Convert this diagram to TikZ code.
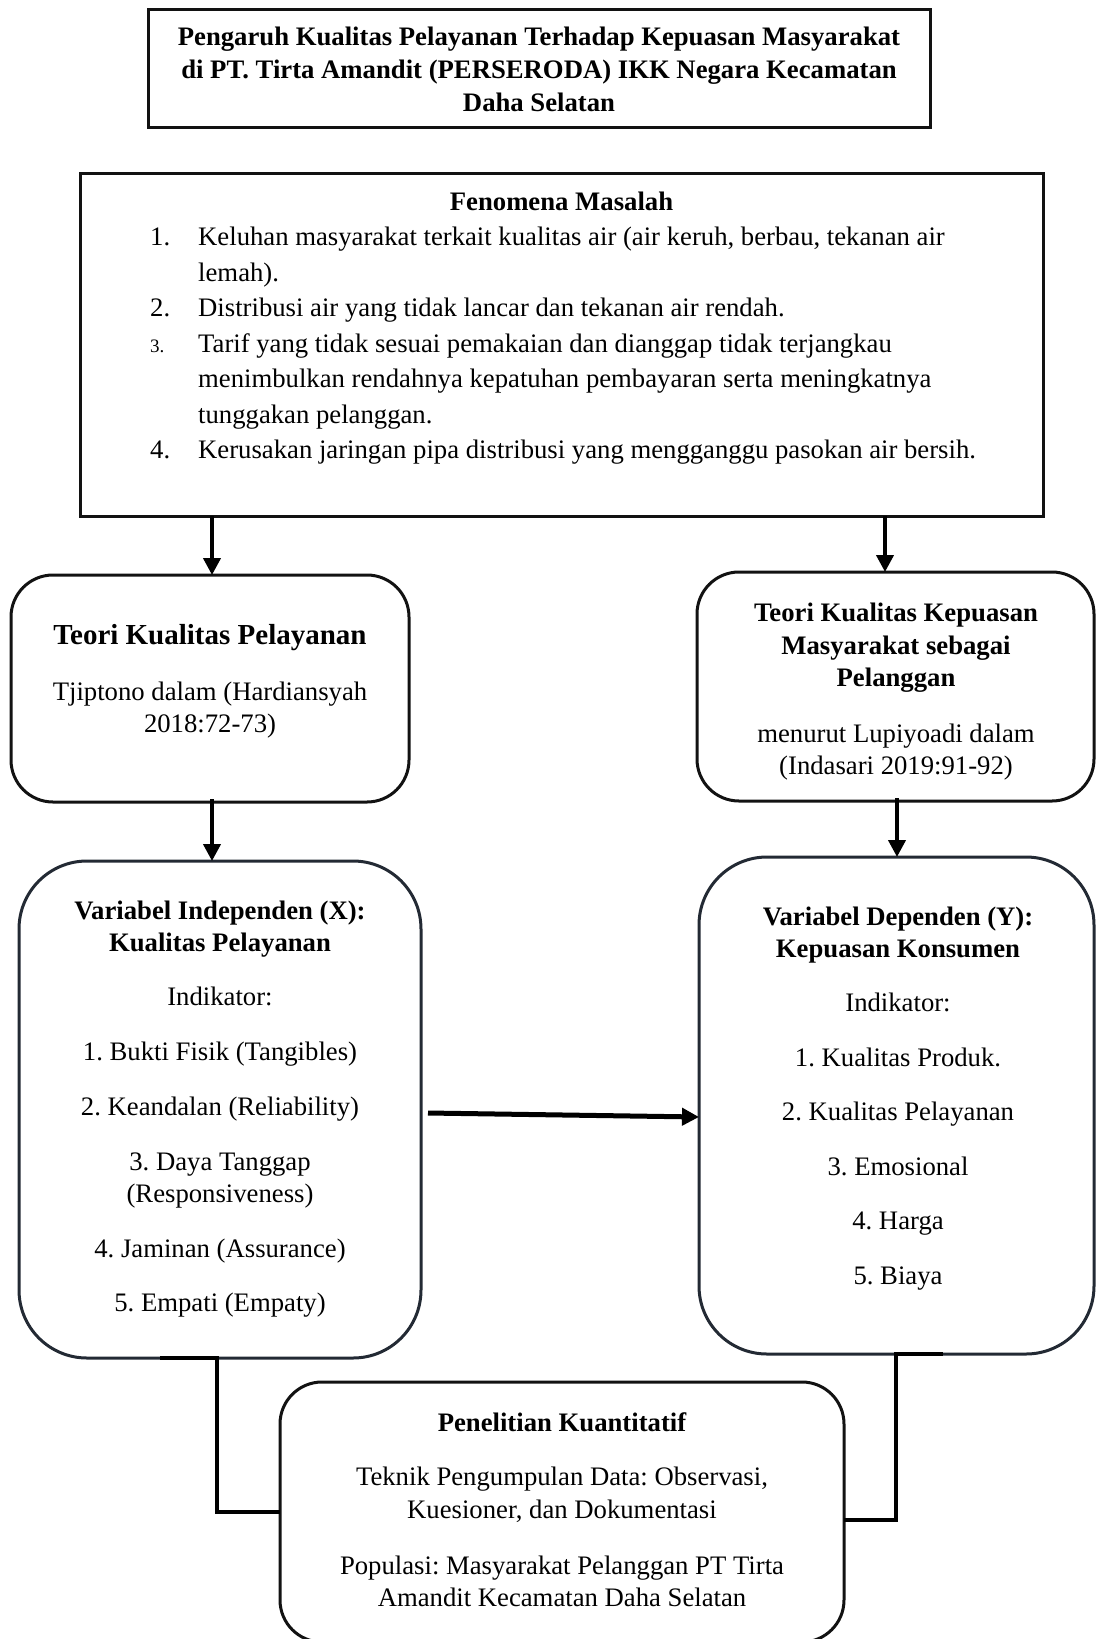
\documentclass[tikz,border=0pt]{standalone}
\usepackage{fontspec}
\setmainfont{Liberation Serif}
\usetikzlibrary{arrows.meta,calc}
\definecolor{slate}{RGB}{35,42,52}
\definecolor{ink}{RGB}{18,18,18}
\frenchspacing
\begin{document}
\begin{tikzpicture}[x=1pt,y=-1pt,
  txt/.style={inner sep=0pt,anchor=base,font=\fontsize{26.7}{33}\selectfont},
  btxt/.style={inner sep=0pt,anchor=base,font=\fontsize{26.7}{33}\selectfont\bfseries},
  ltxt/.style={txt,anchor=base west},
  sqbox/.style={draw=ink,line width=3pt,inner sep=0pt,outer sep=0pt},
  rbox/.style={draw=ink,line width=3pt,rounded corners=42pt,inner sep=0pt,outer sep=0pt},
  vbox/.style={draw=slate,line width=3pt,rounded corners=68pt,inner sep=0pt,outer sep=0pt},
  arr/.style={line width=4pt,-{Triangle[length=17pt,width=17pt]}},
  harr/.style={line width=5pt,-{Triangle[length=17pt,width=17pt]}},
  conn/.style={line width=3.5pt,line join=miter}
]
\useasboundingbox (0,0) rectangle (1097,1639);

% boxes
\node[sqbox,minimum width=782pt,minimum height=118pt] (title) at (539,68) {};
\node[sqbox,minimum width=963pt,minimum height=343pt] (fen) at (561.5,344.5) {};
\node[rbox,minimum width=398pt,minimum height=227pt] (tkp) at (210,688.5) {};
\node[rbox,minimum width=397pt,minimum height=229pt] (tkk) at (895.5,686.5) {};
\node[vbox,minimum width=402pt,minimum height=497pt] (varx) at (220,1109.5) {};
\node[vbox,minimum width=395pt,minimum height=497pt] (vary) at (896.5,1105.5) {};
\node[rbox,minimum width=564pt,minimum height=260pt] (pen) at (562,1512) {};

% title text
\node[btxt] (t1) at (539,45.5) {Pengaruh Kualitas Pelayanan Terhadap Kepuasan Masyarakat};
\node[btxt] (t2) at (539,78) {di PT. Tirta Amandit (PERSERODA) IKK Negara Kecamatan};
\node[btxt] (t3) at (539,111) {Daha Selatan};

% fenomena
\node[btxt] (f0) at (561.5,210) {Fenomena Masalah};
\node[ltxt] (n1) at (150,245.5) {1.};
\node[ltxt] (f1) at (198,245.5) {Keluhan masyarakat terkait kualitas air (air keruh, berbau, tekanan air};
\node[ltxt] (f2) at (198,281) {lemah).};
\node[ltxt] (n2) at (150,316.5) {2.};
\node[ltxt] (f3) at (198,316.5) {Distribusi air yang tidak lancar dan tekanan air rendah.};
\node[ltxt,font=\fontsize{19}{22}\selectfont] (n3) at (150,352) {3.};
\node[ltxt] (f4) at (198,352) {Tarif yang tidak sesuai pemakaian dan dianggap tidak terjangkau};
\node[ltxt] (f5) at (198,387.5) {menimbulkan rendahnya kepatuhan pembayaran serta meningkatnya};
\node[ltxt] (f6) at (198,423) {tunggakan pelanggan.};
\node[ltxt] (n4) at (150,458.5) {4.};
\node[ltxt] (f7) at (198,458.5) {Kerusakan jaringan pipa distribusi yang mengganggu pasokan air bersih.};

% teori kualitas pelayanan
\node[btxt,font=\fontsize{29}{35}\selectfont\bfseries] (p1) at (210,644) {Teori Kualitas Pelayanan};
\node[txt] (p2) at (210,700) {Tjiptono dalam (Hardiansyah};
\node[txt] (p3) at (210,732) {2018:72-73)};

% teori kualitas kepuasan
\node[btxt] (k1) at (896,621) {Teori Kualitas Kepuasan};
\node[btxt] (k2) at (896,654) {Masyarakat sebagai};
\node[btxt] (k3) at (896,686) {Pelanggan};
\node[txt] (k4) at (896,742) {menurut Lupiyoadi dalam};
\node[txt] (k5) at (896,774) {(Indasari 2019:91-92)};

% variabel X
\node[btxt] (x1) at (220,919) {Variabel Independen (X):};
\node[btxt] (x2) at (220,951) {Kualitas Pelayanan};
\node[txt] (x3) at (220,1005) {Indikator:};
\node[txt] (x4) at (220,1060.5) {1. Bukti Fisik (Tangibles)};
\node[txt] (x5) at (220,1115) {2. Keandalan (Reliability)};
\node[txt] (x6) at (220,1170) {3. Daya Tanggap};
\node[txt] (x7) at (220,1202) {(Responsiveness)};
\node[txt] (x8) at (220,1257) {4. Jaminan (Assurance)};
\node[txt] (x9) at (220,1311) {5. Empati (Empaty)};

% variabel Y
\node[btxt] (y1) at (898,925) {Variabel Dependen (Y):};
\node[btxt] (y2) at (898,957) {Kepuasan Konsumen};
\node[txt] (y3) at (898,1011) {Indikator:};
\node[txt] (y4) at (898,1066) {1. Kualitas Produk.};
\node[txt] (y5) at (898,1120) {2. Kualitas Pelayanan};
\node[txt] (y6) at (898,1175.5) {3. Emosional};
\node[txt] (y7) at (898,1229) {4. Harga};
\node[txt] (y8) at (898,1284) {5. Biaya};

% penelitian
\node[btxt] (q1) at (562,1431) {Penelitian Kuantitatif};
\node[txt] (q2) at (562,1485) {Teknik Pengumpulan Data: Observasi,};
\node[txt] (q3) at (562,1518) {Kuesioner, dan Dokumentasi};
\node[txt] (q4) at (562,1574) {Populasi: Masyarakat Pelanggan PT Tirta};
\node[txt] (q5) at (562,1606.5) {Amandit Kecamatan Daha Selatan};

% connectors
\coordinate (ax1) at (212,0);
\coordinate (ax2) at (885,0);
\coordinate (ax4) at (897,0);
\draw[arr] (fen.south -| ax1) -- (ax1 |- tkp.north);
\draw[arr] (fen.south -| ax2) -- (ax2 |- tkk.north);
\draw[arr] ([yshift=3pt]tkp.south -| ax1) -- (ax1 |- varx.north);
\draw[arr] ([yshift=3pt]tkk.south -| ax4) -- (ax4 |- vary.north);

\coordinate (hs) at (0,1113);
\coordinate (he) at (0,1117);
\draw[harr] ([xshift=7pt]varx.east |- hs) -- (vary.west |- he);

\coordinate (cl) at (217,1512);
\coordinate (cr) at (896,1520);
\draw[conn] ([xshift=-57pt]cl |- varx.south) -- (cl |- varx.south) -- (cl) -- (cl -| pen.west);
\draw[conn] ([xshift=47pt]cr |- vary.south) -- (cr |- vary.south) -- (cr) -- (cr -| pen.east);
\end{tikzpicture}
\end{document}
